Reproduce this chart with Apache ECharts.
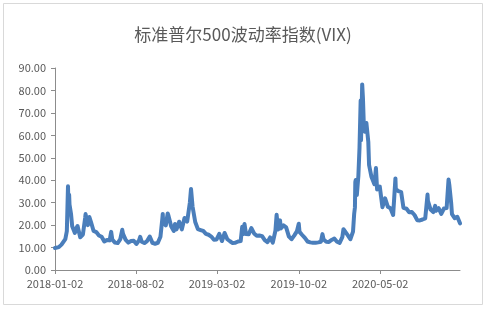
<!DOCTYPE html>
<html>
<head>
<meta charset="utf-8">
<script src="https://cdn.jsdelivr.net/npm/echarts@6/dist/echarts.min.js"></script>
<style>
html,body{margin:0;padding:0;background:#fff;}
#chart{width:486px;height:309px;}
</style>
</head>
<body>
<div id="chart"></div>
<script>
var titleText = '标准普尔500波动率指数(VIX)';
var yTicks = [0, 10, 20, 30, 40, 50, 60, 70, 80, 90];
var xTickDates = ['2018-01-02', '2018-08-02', '2019-03-02', '2019-10-02', '2020-05-02'];
var axisEnd = '2020-11-27';

var dates2018 = ['2018-01-02','2018-01-05','2018-01-12','2018-01-19','2018-01-24','2018-01-29','2018-02-01','2018-02-02','2018-02-05','2018-02-06','2018-02-08','2018-02-09','2018-02-13','2018-02-16','2018-02-23','2018-02-27','2018-03-02','2018-03-09','2018-03-16','2018-03-22','2018-03-23','2018-03-29','2018-04-02','2018-04-06','2018-04-13','2018-04-20','2018-04-27','2018-05-04','2018-05-11','2018-05-18','2018-05-25','2018-05-29','2018-06-01','2018-06-08','2018-06-15','2018-06-22','2018-06-27','2018-06-29','2018-07-06','2018-07-13','2018-07-20','2018-07-27','2018-08-03','2018-08-10','2018-08-13','2018-08-17','2018-08-24','2018-08-31','2018-09-07','2018-09-14','2018-09-21','2018-09-28','2018-10-05','2018-10-10','2018-10-11','2018-10-12','2018-10-19','2018-10-24','2018-10-26','2018-11-02','2018-11-09','2018-11-12','2018-11-16','2018-11-23','2018-11-30','2018-12-07','2018-12-14','2018-12-21','2018-12-24','2018-12-28'];
var values2018 = [9.8,9.2,10.2,11.3,11.1,13.8,13.5,17.3,37.3,30.0,33.5,29.1,24.9,19.5,16.5,18.6,19.6,14.6,15.8,23.3,24.9,20.0,23.6,21.5,17.4,16.9,15.4,14.8,12.7,13.4,13.2,17.0,13.5,12.2,12.0,13.8,17.9,16.1,13.4,12.2,12.9,13.0,11.6,13.2,14.8,12.6,12.0,12.9,14.9,12.1,11.7,12.1,14.8,23.0,25.0,21.3,19.9,25.2,24.2,19.5,17.4,20.5,18.1,21.5,18.1,23.2,21.6,30.1,36.1,28.3];

var dates2019 = ['2019-01-04','2019-01-11','2019-01-18','2019-01-25','2019-02-01','2019-02-08','2019-02-15','2019-02-22','2019-03-01','2019-03-08','2019-03-15','2019-03-22','2019-03-29','2019-04-05','2019-04-12','2019-04-18','2019-04-26','2019-05-03','2019-05-07','2019-05-10','2019-05-13','2019-05-17','2019-05-24','2019-05-31','2019-06-07','2019-06-14','2019-06-21','2019-06-28','2019-07-05','2019-07-12','2019-07-19','2019-07-26','2019-08-02','2019-08-05','2019-08-09','2019-08-14','2019-08-16','2019-08-23','2019-08-30','2019-09-06','2019-09-13','2019-09-20','2019-09-27','2019-10-02','2019-10-04','2019-10-11','2019-10-18','2019-10-25','2019-11-01','2019-11-08','2019-11-15','2019-11-22','2019-11-29','2019-12-03','2019-12-06','2019-12-13','2019-12-20','2019-12-27'];
var values2019 = [21.4,18.2,17.8,17.4,16.1,15.7,14.9,13.5,13.6,16.1,12.9,16.5,13.7,12.8,12.0,12.1,12.7,12.9,19.3,16.0,20.5,16.0,15.9,18.7,16.3,15.3,15.4,15.1,13.3,12.4,14.5,12.2,17.6,24.6,18.0,22.1,18.5,19.9,19.0,15.0,13.7,15.3,17.2,20.6,17.0,15.6,14.3,12.7,12.3,12.1,12.1,12.3,12.6,16.0,13.6,12.6,12.5,13.4];

var dates2020 = ['2020-01-03','2020-01-08','2020-01-10','2020-01-17','2020-01-24','2020-01-27','2020-01-31','2020-02-07','2020-02-14','2020-02-21','2020-02-24','2020-02-26','2020-02-27','2020-02-28','2020-03-02','2020-03-06','2020-03-09','2020-03-11','2020-03-12','2020-03-13','2020-03-16','2020-03-18','2020-03-20','2020-03-23','2020-03-26','2020-03-27','2020-04-01','2020-04-03','2020-04-09','2020-04-17','2020-04-21','2020-04-24','2020-05-01','2020-05-08','2020-05-15','2020-05-22','2020-05-29','2020-06-05','2020-06-11','2020-06-12','2020-06-19','2020-06-26','2020-07-02','2020-07-10','2020-07-17','2020-07-24','2020-07-31','2020-08-07','2020-08-14','2020-08-21','2020-08-28','2020-09-03','2020-09-04','2020-09-11','2020-09-18','2020-09-23','2020-09-25','2020-10-02','2020-10-09','2020-10-16','2020-10-23','2020-10-28','2020-10-30','2020-11-04','2020-11-06','2020-11-13','2020-11-20','2020-11-27'];
var values2020 = [14.0,13.5,12.6,12.1,14.6,18.2,18.8,15.5,13.7,17.1,25.0,27.9,39.2,40.1,33.4,41.9,54.5,53.9,75.5,57.8,82.7,76.5,66.0,61.6,61.0,65.5,57.1,46.8,41.7,38.2,45.4,35.9,37.2,28.0,31.9,28.2,27.5,24.5,40.8,36.1,35.1,34.7,27.7,27.3,25.7,25.8,24.5,22.2,22.1,22.5,23.0,33.6,30.8,26.9,25.8,28.6,26.4,27.6,25.0,27.4,27.6,40.3,38.0,29.6,24.9,23.1,23.7,20.8];

var dates = dates2018.concat(dates2019, dates2020);
var values = values2018.concat(values2019, values2020);

function ts(s) { var p = s.split('-'); return Date.UTC(+p[0], +p[1] - 1, +p[2]); }
function fmt(v) {
  var d = new Date(Math.round(v));
  function pad(n) { return (n < 10 ? '0' : '') + n; }
  return d.getUTCFullYear() + '-' + pad(d.getUTCMonth() + 1) + '-' + pad(d.getUTCDate());
}
var seriesData = dates.map(function (d, i) { return [ts(d), values[i]]; });
var tickTs = xTickDates.map(ts);

var chart = echarts.init(document.getElementById('chart'), null, {renderer: 'canvas'});
var axisColor = '#8c8c8c';
var labelColor = '#595959';
var fontFam = '"Noto Sans CJK SC", "Noto Sans", sans-serif';

chart.setOption({
  animation: false,
  backgroundColor: '#ffffff',
  graphic: [{
    type: 'rect',
    shape: {x: 3.5, y: 3.5, width: 479, height: 301},
    style: {fill: 'none', stroke: '#d9d9d9', lineWidth: 1},
    silent: true
  }],
  title: {
    text: titleText,
    left: 'center',
    top: 21,
    textStyle: {fontFamily: fontFam, fontSize: 17, fontWeight: 'normal', color: '#595959'}
  },
  grid: {left: 55, right: 26, top: 68, bottom: 39, containLabel: false},
  xAxis: {
    type: 'value',
    min: ts(xTickDates[0]),
    max: ts(axisEnd),
    scale: true,
    splitLine: {show: false},
    axisLine: {show: true, onZero: false, lineStyle: {color: axisColor, width: 1}},
    axisTick: {show: true, customValues: tickTs, length: 4, lineStyle: {color: axisColor}},
    axisLabel: {
      customValues: tickTs,
      margin: 8,
      color: labelColor,
      fontSize: 11,
      fontFamily: fontFam,
      formatter: function (v) { return fmt(v); }
    }
  },
  yAxis: {
    type: 'value',
    min: yTicks[0],
    max: yTicks[yTicks.length - 1],
    interval: 10,
    splitLine: {show: false},
    axisLine: {show: true, lineStyle: {color: axisColor, width: 1}},
    axisTick: {show: true, length: 4, lineStyle: {color: axisColor}},
    axisLabel: {
      margin: 9,
      color: labelColor,
      fontSize: 11,
      fontFamily: fontFam,
      formatter: function (v) { return v.toFixed(2); }
    }
  },
  series: [{
    type: 'line',
    data: seriesData,
    showSymbol: false,
    symbol: 'none',
    lineStyle: {color: '#4a7ebb', width: 4, cap: 'round', join: 'round'}
  }]
});
</script>
</body>
</html>
